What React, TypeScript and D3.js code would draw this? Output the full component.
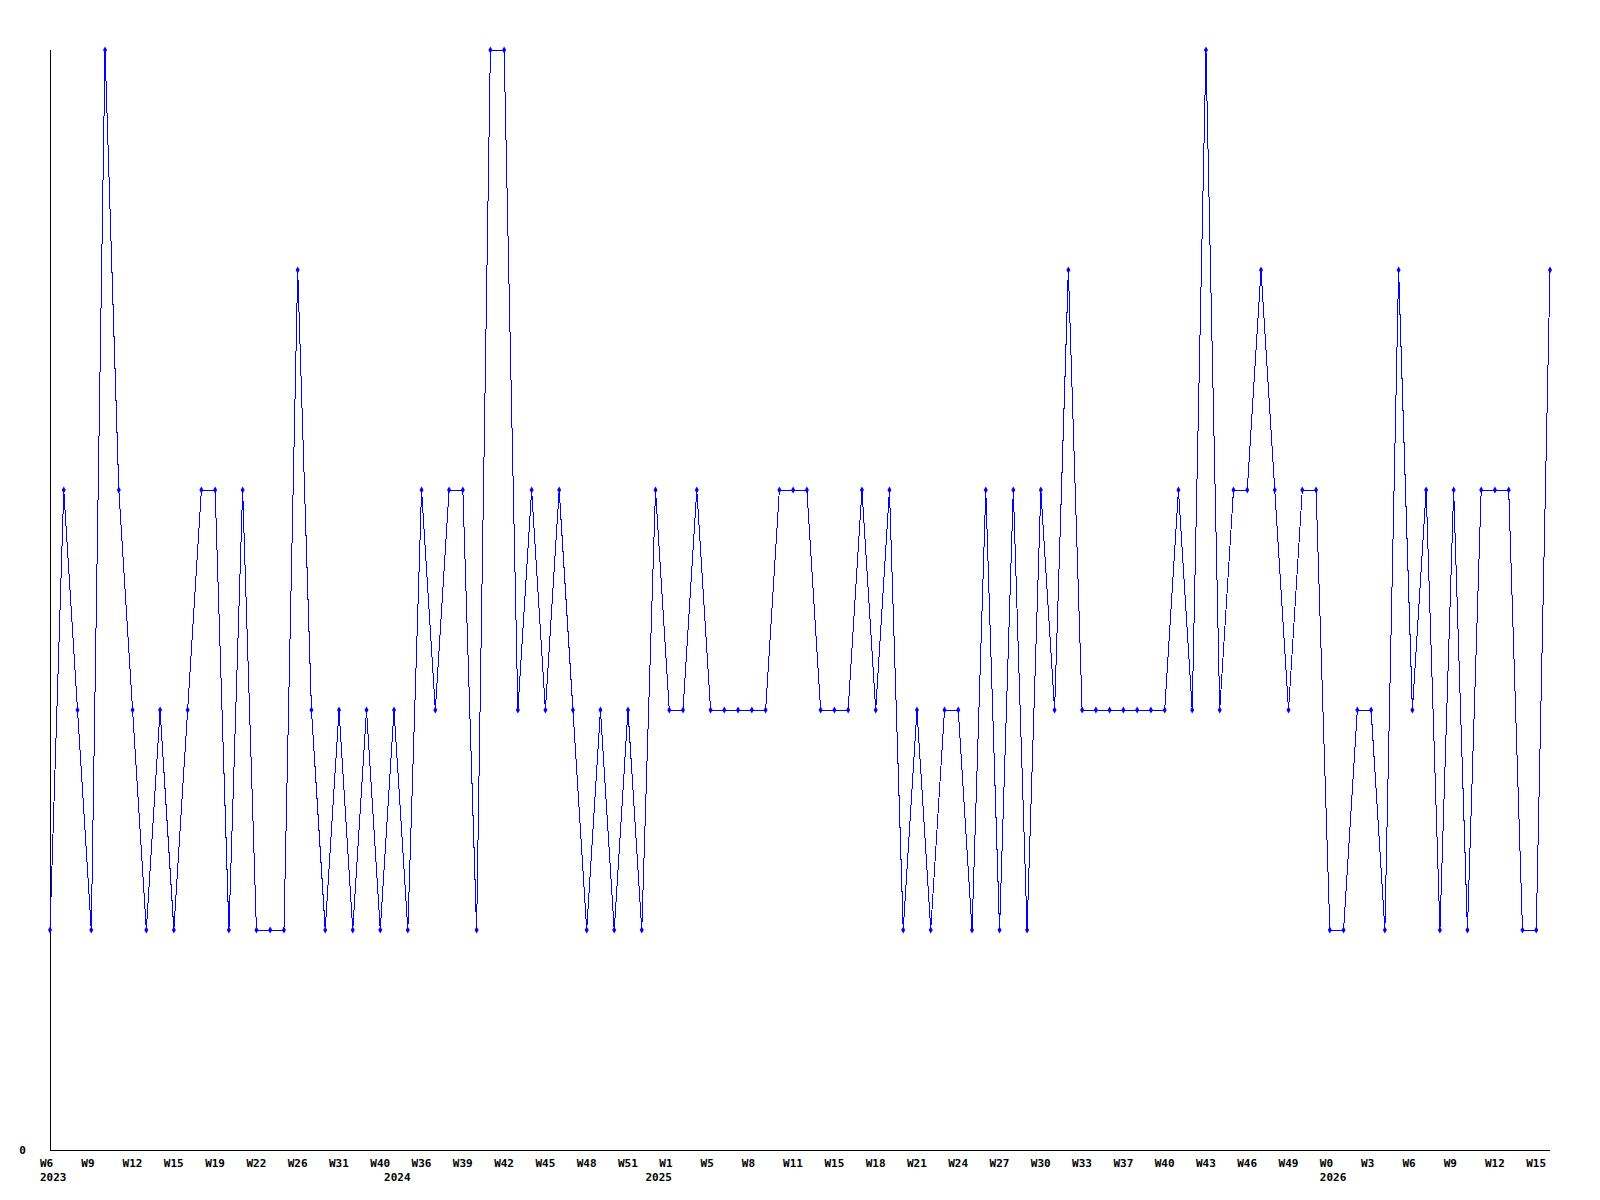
import React from 'react';
import * as d3 from 'd3';

// weekly counts, one per point, left to right
const counts = [
  1, 3, 2, 1, 5, 3, 2, 1, 2, 1,
  2, 3, 3, 1, 3, 1, 1, 1, 4, 2,
  1, 2, 1, 2, 1, 2, 1, 3, 2, 3,
  3, 1, 5, 5, 2, 3, 2, 3, 2, 1,
  2, 1, 2, 1, 3, 2, 2, 3, 2, 2,
  2, 2, 2, 3, 3, 3, 2, 2, 2, 3,
  2, 3, 1, 2, 1, 2, 2, 1, 3, 1,
  3, 1, 3, 2, 4, 2, 2, 2, 2, 2,
  2, 2, 3, 2, 5, 2, 3, 3, 4, 3,
  2, 3, 3, 1, 1, 2, 2, 1, 4, 2,
  3, 1, 3, 1, 3, 3, 3, 1, 1, 4,
];

// a week label is shown on every third point
const weekLabels = [
  'W6', 'W9', 'W12', 'W15', 'W19', 'W22', 'W26', 'W31', 'W40', 'W36',
  'W39', 'W42', 'W45', 'W48', 'W51', 'W1', 'W5', 'W8', 'W11', 'W15',
  'W18', 'W21', 'W24', 'W27', 'W30', 'W33', 'W37', 'W40', 'W43', 'W46',
  'W49', 'W0', 'W3', 'W6', 'W9', 'W12', 'W15',
];
const labelStep = 3;

const years = ['2023', '2024', '2025', '2026'];
const yearAt = [0, 25, 44, 93];

const W = 1600;
const H = 1200;
const left = 50;
const right = 1550;
const top = 50;
const bottom = 1150;
const font = '"DejaVu Sans Mono", monospace';

export default function App() {
  const x = d3.scaleLinear().domain([0, counts.length - 1]).range([left, right]);
  const y = d3.scaleLinear().domain([0, d3.max(counts) as number]).range([bottom, top]);

  const line = d3.line<number>()
    .x((d, i) => x(i))
    .y(d => y(d));

  const marker = d3.symbol().type(d3.symbolDiamond).size(14)();

  return (
    <div style={{position: 'absolute', left: 0, top: 0}}>
      <svg width={W} height={H} style={{display: 'block', background: '#fff'}}>
        {/* axes */}
        <line x1={left} y1={top} x2={left} y2={bottom} stroke="#000" shapeRendering="crispEdges" />
        <line x1={left} y1={bottom} x2={right} y2={bottom} stroke="#000" shapeRendering="crispEdges" />
        <text x={22.5} y={bottom + 4} textAnchor="middle" fontFamily={font} fontWeight="bold" fontSize={11}>
          {y.ticks(1)[0]}
        </text>

        <path d={line(counts) || ''} fill="none" stroke="#0000ff" strokeWidth={1} shapeRendering="crispEdges" />
        {counts.map((d, i) => (
          <path key={i} d={marker || ''} transform={`translate(${x(i)},${y(d)})`} fill="#0000ff" />
        ))}

        {weekLabels.map((t, k) => (
          <text key={k} x={x(k * labelStep) - 10} y={bottom + 17}
            fontFamily={font} fontWeight="bold" fontSize={11}>{t}</text>
        ))}
        {years.map((t, k) => (
          <text key={t} x={x(yearAt[k]) - 10} y={bottom + 31}
            fontFamily={font} fontWeight="bold" fontSize={11}>{t}</text>
        ))}
      </svg>
    </div>
  );
}
